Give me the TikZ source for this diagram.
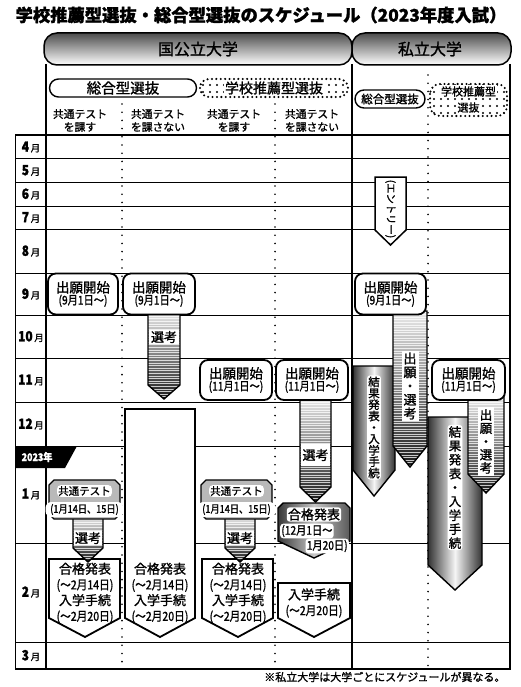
\documentclass[tikz,border=0pt]{standalone}
\usepackage{fontspec}
\setmainfont{Noto Sans CJK JP}[FakeBold=1.3]
\newfontfamily\cond{Noto Sans CJK JP}[FakeStretch=0.85, FakeBold=1.3]
\usetikzlibrary{patterns.meta}
% striped arrow: x1 x2 ytop yshaft ypoint
\newcommand\stripearrow[5]{%
  \begin{scope}
    \clip (#1,#3) -- (#2,#3) -- (#2,#4) -- ({(#1+#2)/2},#5) -- (#1,#4) -- cycle;
    \shade[top color=gray!15, bottom color=black!90] (#1,#3) rectangle (#2,#5);
    \foreach \k in {0,...,70} {\draw[white, opacity=0.75, line width=0.7pt] (#1,#3+1+\k*2.6) -- (#2,#3+1+\k*2.6);}
  \end{scope}
  \draw[line width=1.4pt] (#1,#3) -- (#2,#3) -- (#2,#4) -- ({(#1+#2)/2},#5) -- (#1,#4) -- cycle;
}
\newcommand\metalarrow[5]{%
  \path[draw, line width=1.4pt, left color=black!80, right color=black!80, middle color=gray!8]
    (#1,#3) -- (#2,#3) -- (#2,#4) -- ({(#1+#2)/2},#5) -- (#1,#4) -- cycle;
}
\newcommand\kyotsu[2]{%
  \draw[line width=1.3pt, fill=gray!55] (#1,485) -- (#1+5,480) -- (#1+66,480) -- (#1+71,485) -- (#1+71,514) -- (#1+66,519) -- (#1+5,519) -- (#1,514) -- cycle;
  \node[fill=white, rounded corners=4pt, inner sep=1.2pt, font=\fontsize{10.5}{11}\selectfont] (#2t) at (#1+35.5,491) {共通テスト};
  \node[fill=white, rounded corners=6pt, minimum width=78pt, minimum height=15pt, inner sep=0pt, font=\cond\fontsize{10.8}{11}\selectfont] (#2d) at (#1+35.5,509.5) {(1月14日、15日)};
}
\newcommand\mon[3]{\node (#1) at (31,#2) {{\cond\bfseries\fontsize{14}{14}\selectfont #3}\,{\fontsize{9.5}{10}\selectfont 月}};}
\begin{document}
\begin{tikzpicture}[x=1pt,y=-1pt,
  hline/.style={line width=1pt},
  vline/.style={line width=2.3pt},
  dotline/.style={line width=1.8pt, dash pattern=on 0pt off 8.2pt, line cap=round},
  dotborder/.style={line width=2.3pt, dash pattern=on 0pt off 4.4pt, line cap=round},
  dotfill/.style={pattern={Dots[distance=7pt,radius=1.2pt]}},
  hdr/.style={line width=1.5pt, rounded corners=13pt, top color=black!70, bottom color=white},
  pill/.style={draw, line width=1.4pt, rounded corners=9pt, fill=white},
  appbox/.style={draw, line width=1.8pt, rounded corners=8pt, fill=white, align=center, inner sep=0pt, minimum height=41pt},
  pent/.style={draw, line width=1.8pt, fill=white},
  txtbox/.style={fill=white, inner sep=1pt, align=center},
  halo/.style={fill=white, inner sep=1.2pt, rounded corners=3pt, align=center},
  pentxt/.style={align=center, font=\fontsize{13}{15.7}\selectfont},
]
\useasboundingbox (0,0) rectangle (520,687);
\fill[white] (0,0) rectangle (520,687);

% title
\node[font=\bfseries\fontsize{17.3}{18}\selectfont] (title) at (261,15) {学校推薦型選抜・総合型選抜のスケジュール（2023年度入試）};

% header bars
\path[draw, hdr] (44,33) rectangle (352,65);
\path[draw, hdr] (352,33) rectangle (511,65);
\node[font=\fontsize{16}{16}\selectfont] (nat) at (198,49) {国公立大学};
\node[font=\fontsize{16}{16}\selectfont] (priv) at (430,49) {私立大学};

% grid
\foreach \yy in {159,182,206,229,273,315,358,402,446,543,642} \draw[hline] (15,\yy) -- (510,\yy);
\draw[line width=1.8pt] (15,135) -- (511,135);
\draw[line width=1.8pt] (15,669) -- (511,669);
\draw[line width=0.9pt] (15,135) -- (15,669);
\draw[dotline] (122,104) -- (122,669);
\draw[dotline] (275,104) -- (275,669);
\draw[dotline] (428,75) -- (428,669);
\draw[vline] (46,64) -- (46,670);
\draw[vline] (352,64) -- (352,670);
\draw[vline] (510,64) -- (510,670);

% sub headers
\node[pill, minimum width=147pt, minimum height=18pt, inner sep=0pt, font=\fontsize{14.5}{15}\selectfont] (h1) at (123,88) {総合型選抜};
\path[fill=white, rounded corners=9pt] (200,79) rectangle (348,97);
\path[dotfill, rounded corners=9pt] (200,79) rectangle (348,97);
\draw[dotborder, rounded corners=9pt] (200,79) rectangle (348,97);
\node[txtbox, font=\fontsize{14}{15}\selectfont] (h2) at (274,88) {学校推薦型選抜};
\node[pill, minimum width=70pt, minimum height=18pt, inner sep=0pt, font=\fontsize{11.5}{12}\selectfont] (h3) at (390,99) {総合型選抜};
\path[fill=white, rounded corners=10pt] (430,84) rectangle (507,116);
\path[dotfill, rounded corners=10pt] (430,84) rectangle (507,116);
\draw[dotborder, rounded corners=10pt] (430,84) rectangle (507,116);
\node[txtbox, font=\fontsize{11}{12}\selectfont] (h4a) at (468.5,91.5) {学校推薦型};
\node[txtbox, font=\fontsize{11}{12}\selectfont] (h4b) at (468.5,107.5) {選抜};

\node[align=center, font=\fontsize{10.8}{13}\selectfont] (s1) at (80,120.5) {共通テスト\\を課す};
\node[align=center, font=\fontsize{10.8}{13}\selectfont] (s2) at (158,120.5) {共通テスト\\を課さない};
\node[align=center, font=\fontsize{10.8}{13}\selectfont] (s3) at (234,120.5) {共通テスト\\を課す};
\node[align=center, font=\fontsize{10.8}{13}\selectfont] (s4) at (312,120.5) {共通テスト\\を課さない};

% months
\mon{m4}{147}{4}
\mon{m5}{170.5}{5}
\mon{m6}{194}{6}
\mon{m7}{217.5}{7}
\mon{m8}{251}{8}
\mon{m9}{294}{9}
\mon{m10}{336.5}{10}
\mon{m11}{380}{11}
\mon{m12}{424}{12}
\mon{m1}{494}{1}
\mon{m2}{592}{2}
\mon{m3}{655.5}{3}
\fill[black] (15,446) -- (77,446) -- (65,468) -- (15,468) -- cycle;
\node[text=white, font=\cond\bfseries\fontsize{10.5}{11}\selectfont] (y2023) at (37,457) {2023年};

% ---- national: column 2 big box
\draw[pent] (125,409) -- (195,409) -- (195,618) -- (160,637) -- (125,618) -- cycle;
\node[pentxt] (k2) at (160,593) {合格発表\\{\cond\fontsize{12.5}{15.7}\selectfont (〜2月14日)}\\入学手続\\{\cond\fontsize{12.5}{15.7}\selectfont (〜2月20日)}};

% column 1 and 3 result boxes
\draw[pent] (49,559) -- (120,559) -- (120,618) -- (85,637) -- (49,618) -- cycle;
\node[pentxt] (k1) at (85,593) {合格発表\\{\cond\fontsize{12.5}{15.7}\selectfont (〜2月14日)}\\入学手続\\{\cond\fontsize{12.5}{15.7}\selectfont (〜2月20日)}};
\draw[pent] (202,559) -- (273,559) -- (273,618) -- (238,637) -- (202,618) -- cycle;
\node[pentxt] (k3) at (238,593) {合格発表\\{\cond\fontsize{12.5}{15.7}\selectfont (〜2月14日)}\\入学手続\\{\cond\fontsize{12.5}{15.7}\selectfont (〜2月20日)}};

% column 4 result boxes
\path[draw, line width=1.4pt, left color=black!78, right color=black!65, middle color=gray!45] (278,508) -- (283,503) -- (345,503) -- (350,508) -- (350,541) -- (314,558) -- (278,541) -- cycle;
\node[halo, font=\fontsize{13}{14}\selectfont] (k4a) at (314,514.5) {合格発表};
\node[halo, anchor=west, font=\cond\fontsize{12}{12}\selectfont] (k4b) at (280,531) {(12月1日〜};
\node[halo, anchor=east, font=\cond\fontsize{12}{12}\selectfont] (k4c) at (349,546) {1月20日)};
\draw[pent] (278,583) -- (350,583) -- (350,618) -- (314,637) -- (278,618) -- cycle;
\node[pentxt] (k4d) at (314,603) {入学手続\\{\cond\fontsize{12.5}{15.7}\selectfont (〜2月20日)}};

% selection arrows (national)
\stripearrow{148}{180}{310}{385}{399}
\node[txtbox, minimum width=30pt, font=\fontsize{13}{14}\selectfont] (e2) at (164,337) {選考};
\stripearrow{300}{331}{396}{487}{502}
\node[txtbox, minimum width=29pt, minimum height=22pt, font=\fontsize{13}{14}\selectfont] (e4) at (315.5,455) {選考};
\stripearrow{73}{103}{516}{548}{562}
\node[txtbox, minimum width=28pt, font=\fontsize{13}{14}\selectfont] (e1) at (88,538) {選考};
\stripearrow{225}{255}{516}{548}{562}
\node[txtbox, minimum width=28pt, font=\fontsize{13}{14}\selectfont] (e3) at (240,538) {選考};

% common test boxes
\kyotsu{49}{c1}
\kyotsu{201}{c3}

% application boxes (national)
\node[appbox, minimum width=70pt] (a1) at (83,294) {{\fontsize{13.5}{17}\selectfont 出願開始}\\{\cond\fontsize{12}{13}\selectfont (9月1日〜)}};
\node[appbox, minimum width=72pt] (a2) at (159,294) {{\fontsize{13.5}{17}\selectfont 出願開始}\\{\cond\fontsize{12}{13}\selectfont (9月1日〜)}};
\node[appbox, minimum width=72pt, minimum height=40pt] (a3) at (236,380) {{\fontsize{13.5}{17}\selectfont 出願開始}\\{\cond\fontsize{12}{13}\selectfont (11月1日〜)}};
\node[appbox, minimum width=72pt, minimum height=40pt] (a4) at (312,380) {{\fontsize{13.5}{17}\selectfont 出願開始}\\{\cond\fontsize{12}{13}\selectfont (11月1日〜)}};

% ---- private
\draw[line width=1.5pt, fill=white] (375,177) -- (406,177) -- (406,230) -- (390.5,245) -- (375,230) -- cycle;
\node[rotate=-90, font=\fontsize{10.3}{11}\selectfont] (entry) at (390.5,209) {(エントリー)};

\metalarrow{353}{395}{366}{470}{496}
\node[halo, font=\fontsize{11.5}{11.4}\selectfont] (r1) at (374,427.5) {結\\果\\発\\表\\・\\入\\学\\手\\続};
\stripearrow{393}{427}{311}{446}{467}
\node[txtbox, font=\fontsize{13}{13.75}\selectfont, inner sep=2pt] (q1) at (410,386) {出\\願\\・\\選\\考};
\node[appbox, minimum width=71pt] (p1) at (390.5,294) {{\fontsize{13.5}{17}\selectfont 出願開始}\\{\cond\fontsize{12}{13}\selectfont (9月1日〜)}};

\metalarrow{428}{482}{417}{565}{590}
\node[halo, font=\fontsize{12.5}{13.9}\selectfont] (r2) at (455,487.5) {結\\果\\発\\表\\・\\入\\学\\手\\続};
\stripearrow{468}{504}{396}{474}{493}
\node[txtbox, font=\fontsize{12.5}{13.25}\selectfont, inner sep=2pt] (q2) at (486,441.5) {出\\願\\・\\選\\考};
\node[appbox, minimum width=73pt, minimum height=40pt] (p2) at (468.5,380) {{\fontsize{13.5}{17}\selectfont 出願開始}\\{\cond\fontsize{12}{13}\selectfont (11月1日〜)}};

% footnote
\node[anchor=east, font=\fontsize{11}{12}\selectfont] (note) at (509,677) {※私立大学は大学ごとにスケジュールが異なる。};
\end{tikzpicture}
\end{document}
